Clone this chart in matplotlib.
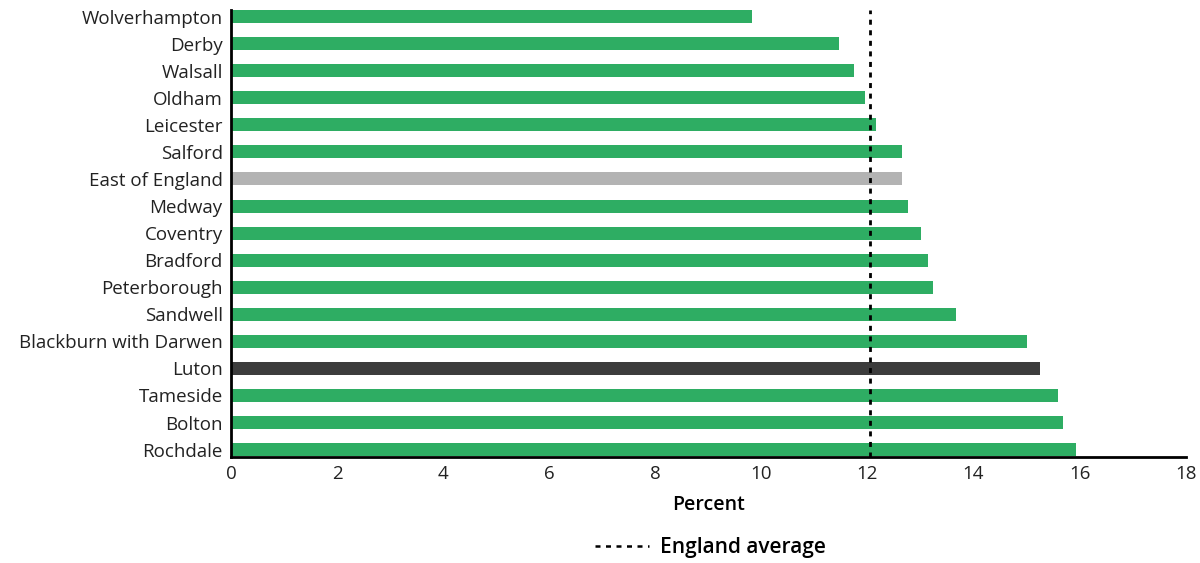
import matplotlib
matplotlib.use("Agg")
import matplotlib.pyplot as plt
from matplotlib.lines import Line2D

plt.rcParams['font.family'] = ['Open Sans', 'DejaVu Sans']

areas = ["Wolverhampton", "Derby", "Walsall", "Oldham", "Leicester", "Salford",
         "East of England", "Medway", "Coventry", "Bradford", "Peterborough",
         "Sandwell", "Blackburn with Darwen", "Luton", "Tameside", "Bolton", "Rochdale"]
values = [9.82, 11.46, 11.75, 11.95, 12.17, 12.65, 12.65, 12.76, 13.02, 13.14,
          13.23, 13.68, 15.0, 15.25, 15.59, 15.68, 15.94]
england_avg = 12.05
xticks = [0, 2, 4, 6, 8, 10, 12, 14, 16, 18]

GREEN = "#2EAD63"
GREY = "#B3B3B3"
DARK = "#3C3C3C"
colors = []
for a in areas:
    if a == "East of England":
        colors.append(GREY)
    elif a == "Luton":
        colors.append(DARK)
    else:
        colors.append(GREEN)

fig = plt.figure(figsize=(12, 5.63), dpi=100)
ax = fig.add_axes([0.1925, 0.188, 0.988 - 0.1925, 0.982 - 0.188])

n = len(areas)
ypos = [n - 1 - i for i in range(n)]
ax.barh(ypos, values, height=0.48, color=colors, zorder=2)
ax.axvline(england_avg, color="black", lw=2, linestyle=(0, (1.8, 2.0)), zorder=3)

ax.set_xlim(0, 18)
ax.set_ylim(-0.28, n - 1 + 0.24)
ax.set_yticks(ypos)
ax.set_yticklabels(areas, fontsize=13.5, color="#222222")
ax.set_xticks(xticks)
ax.set_xticklabels([str(t) for t in xticks], fontsize=13.5, color="#222222")
ax.tick_params(axis="both", length=0, pad=6)
ax.set_xticks([18], minor=True)
ax.tick_params(axis="x", which="minor", direction="in", length=10, width=2, color="black")

for s in ["top", "right"]:
    ax.spines[s].set_visible(False)
for s in ["left", "bottom"]:
    ax.spines[s].set_linewidth(2)
    ax.spines[s].set_color("black")

ax.set_xlabel("Percent", fontsize=14, fontweight="semibold", labelpad=8)

handle = Line2D([], [], color="black", lw=1.8, linestyle=(0, (2.0, 2.2)))
fig.legend([handle], ["England average"], loc="center", bbox_to_anchor=(0.592, 0.027),
           frameon=False, handlelength=2.6, handletextpad=0.5,
           prop={"weight": "semibold", "size": 15})

fig.savefig("out.png", dpi=100)
